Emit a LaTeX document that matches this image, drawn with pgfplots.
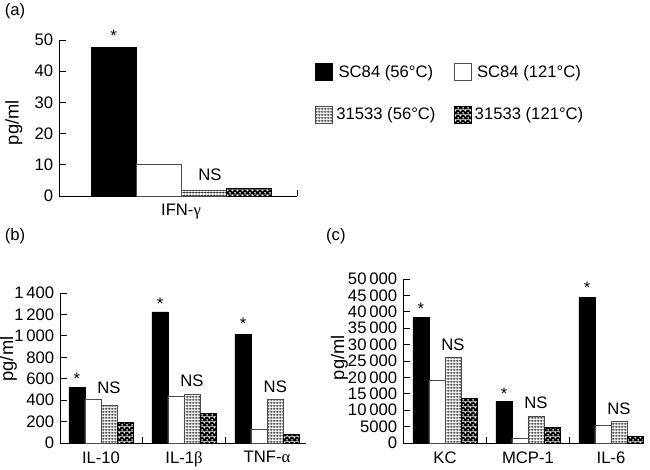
\documentclass[border=0pt]{standalone}
\usepackage{fontspec}
\setmainfont{Liberation Sans}
\newfontfamily\grk{Liberation Serif}
\usepackage{pgfplots}
\pgfplotsset{compat=1.18}
\usetikzlibrary{patterns}

% white with a fine black grid
\pgfdeclarepatterninherentlycolored{gridpat}{\pgfpointorigin}{\pgfpoint{1.8pt}{1.8pt}}{\pgfpoint{1.8pt}{1.8pt}}{%
  \pgfsetfillcolor{white}\pgfpathrectangle{\pgfpointorigin}{\pgfpoint{1.8pt}{1.8pt}}\pgfusepath{fill}%
  \pgfsetstrokecolor{black}\pgfsetlinewidth{0.3pt}%
  \pgfpathmoveto{\pgfpoint{0.9pt}{0pt}}\pgfpathlineto{\pgfpoint{0.9pt}{1.8pt}}%
  \pgfpathmoveto{\pgfpoint{0pt}{0.9pt}}\pgfpathlineto{\pgfpoint{1.8pt}{0.9pt}}%
  \pgfusepath{stroke}}
% black with white dots
\pgfdeclarepatterninherentlycolored{dotpat}{\pgfpointorigin}{\pgfpoint{2.8pt}{2.8pt}}{\pgfpoint{2.8pt}{2.8pt}}{%
  \pgfsetfillcolor{black}\pgfpathrectangle{\pgfpointorigin}{\pgfpoint{2.8pt}{2.8pt}}\pgfusepath{fill}%
  \pgfsetfillcolor{white}%
  \pgfpathcircle{\pgfpoint{0.7pt}{0.7pt}}{0.6pt}%
  \pgfpathcircle{\pgfpoint{2.1pt}{2.1pt}}{0.6pt}%
  \pgfusepath{fill}}

\pgfplotsset{
  panel/.style={
    scale only axis, anchor=south west,
    axis lines*=left, ymin=0, enlargelimits=false, clip=false,
    axis line style={line width=0.6pt},
    tick style={black, line width=0.6pt},
    major tick length=4pt, minor tick length=3.5pt,
    major x tick style={draw=none},
    /pgf/number format/assume math mode=true,
    x tick label style={yshift=-1.5pt},
    ylabel={pg/ml},
    y label style={font=\fontsize{11}{13}\selectfont},
  },
  leg/.style={legend image code/.code={\draw[##1,/tikz/.cd] (0pt,-5pt) rectangle (10pt,5pt);}},
  s1/.style={fill=black, draw=black, line width=0.5pt, leg},
  s2/.style={fill=white, draw=black!70, line width=0.5pt, leg},
  s3/.style={pattern=gridpat, draw=black!70, line width=0.5pt, leg},
  s4/.style={pattern=dotpat, draw=black, line width=0.5pt, leg},
}

\begin{document}
\begin{tikzpicture}
\useasboundingbox (0pt,0pt) rectangle (390pt,281.4pt);

\node at (9pt,274.5pt) {(a)};
\node at (9pt,139.5pt) {(b)};
\node at (201.5pt,139.5pt) {(c)};

% (a)
\begin{axis}[panel,
  at={(35.4pt,163.8pt)}, width=142.8pt, height=93.6pt,
  xmin=-1.22, xmax=1.16, ymax=50,
  ytick={0,10,...,50},
  xtick={0}, xticklabels={IFN-{\grk γ}},
  minor xtick={1.16},
  y label style={at={(axis description cs:-0.19,0.47)}, anchor=center},
  legend columns=2,
  legend style={at={(axis description cs:1.055,0.885)}, anchor=north west,
    draw=none, fill=none, row sep=13pt,
    /tikz/every even column/.append style={column sep=9pt}},
]
\addplot[ybar, bar width=0.45, bar shift=-0.675, s1] coordinates {(0,47.5)};
\addplot[ybar, bar width=0.45, bar shift=-0.225, s2] coordinates {(0,10.2)};
\addplot[ybar, bar width=0.45, bar shift=0.225, s3] coordinates {(0,1.9)};
\addplot[ybar, bar width=0.45, bar shift=0.675, s4] coordinates {(0,2.3)};
\legend{SC84 (56°C), SC84 (121°C), 31533 (56°C), 31533 (121°C)}
\node at (axis cs:-0.675,51.4) {*};
\node at (axis cs:0.29,6.7) {NS};
\end{axis}

% (b)
\begin{axis}[panel,
  at={(36pt,15.6pt)}, width=147.6pt, height=90pt,
  xmin=-0.494, xmax=2.47, ymax=1400,
  ytick={0,200,...,1400},
  /pgf/number format/1000 sep={\,},
  xtick={0,1,2}, xticklabels={IL-10, IL-1{\grk β}, TNF-{\grk α}},
  minor xtick={0.5,1.5},
  y label style={at={(axis description cs:-0.21,0.56)}, anchor=center},
]
\addplot[ybar, bar width=0.193, bar shift=-0.2895, s1] coordinates {(0,519) (1,1223) (2,1017)};
\addplot[ybar, bar width=0.193, bar shift=-0.0965, s2] coordinates {(0,404) (1,432) (2,128)};
\addplot[ybar, bar width=0.193, bar shift=0.0965, s3] coordinates {(0,352) (1,457) (2,404)};
\addplot[ybar, bar width=0.193, bar shift=0.2895, s4] coordinates {(0,190) (1,274) (2,84)};
\node at (axis cs:-0.2895,600) {*};
\node at (axis cs:0.711,1300) {*};
\node at (axis cs:1.711,1113) {*};
\node at (axis cs:0.096,513) {NS};
\node at (axis cs:1.096,579) {NS};
\node at (axis cs:2.1,523) {NS};
\end{axis}

% (c)
\begin{axis}[panel,
  at={(241.8pt,15.6pt)}, width=144pt, height=98.4pt,
  xmin=-0.506, xmax=2.386, ymax=50000,
  ytick={0,5000,...,50000},
  scaled y ticks=false,
  /pgf/number format/1000 sep={\,},
  /pgf/number format/min exponent for 1000 sep=4,
  xtick={0,1,2}, xticklabels={KC, MCP-1, IL-6},
  minor xtick={0.5,1.5},
  y label style={at={(axis description cs:-0.265,0.52)}, anchor=center},
]
\addplot[ybar, bar width=0.193, bar shift=-0.2895, s1] coordinates {(0,38300) (1,12600) (2,44300)};
\addplot[ybar, bar width=0.193, bar shift=-0.0965, s2] coordinates {(0,19000) (1,1500) (2,5300)};
\addplot[ybar, bar width=0.193, bar shift=0.0965, s3] coordinates {(0,26000) (1,8150) (2,6600)};
\addplot[ybar, bar width=0.193, bar shift=0.2895, s4] coordinates {(0,13700) (1,4700) (2,2050)};
\node at (axis cs:-0.2895,40900) {*};
\node at (axis cs:0.711,15000) {*};
\node at (axis cs:1.711,47300) {*};
\node at (axis cs:0.096,29878) {NS};
\node at (axis cs:1.096,12195) {NS};
\node at (axis cs:2.096,10366) {NS};
\end{axis}
\end{tikzpicture}
\end{document}
